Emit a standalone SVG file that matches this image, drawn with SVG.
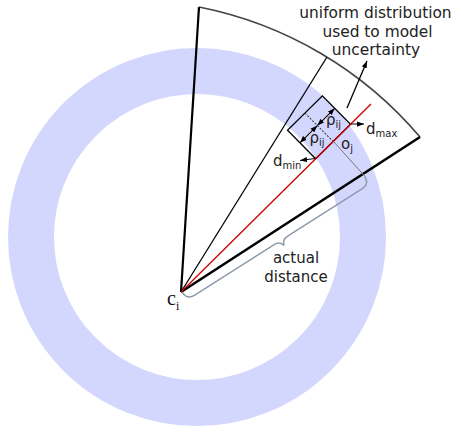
<svg xmlns="http://www.w3.org/2000/svg" width="453" height="428" viewBox="0 0 453 428">
<defs>
<marker id="ah" viewBox="0 0 8 6" refX="8" refY="3" markerWidth="7" markerHeight="5.5" orient="auto-start-reverse" markerUnits="userSpaceOnUse"><path d="M0,0 L8,3 L0,6 z" fill="#000"/></marker>
</defs>
<style>
.lbl{font-family:"DejaVu Sans",Verdana,sans-serif;font-size:15px;fill:#222}
.top{font-size:15.4px}
.sub{font-size:10px}
.ser{font-family:"Liberation Serif","Times New Roman",serif;fill:#111}
.thin{fill:none;stroke:#000;stroke-width:1.3}
</style>
<rect width="453" height="428" fill="#fff"/>
<g id="ring"><circle cx="197" cy="237" r="166" fill="none" stroke="#d3d7fd" stroke-width="46"/></g>
<g id="sector">
<path d="M199,7 A388,388 0 0 1 420,137" fill="none" stroke="#444" stroke-width="1.6"/>
<line x1="181" y1="292" x2="199" y2="7" stroke="#000" stroke-width="2.2"/>
<line x1="181" y1="292" x2="420" y2="137" stroke="#000" stroke-width="2.6"/>
<line x1="181" y1="292" x2="327" y2="57" stroke="#000" stroke-width="1.3"/>
</g>
<g id="box" transform="translate(333.1,141.5) rotate(-44.69)">
<rect x="-24.5" y="-40" width="49" height="40" class="thin"/>
<line x1="0" y1="-40" x2="0" y2="0" stroke="#333" stroke-width="1" stroke-dasharray="2,1.5"/>
<line x1="0" y1="-22.4" x2="24.5" y2="-22.4" stroke="#000" stroke-width="1" marker-start="url(#ah)" marker-end="url(#ah)"/>
<line x1="-24.5" y1="-22.4" x2="0" y2="-22.4" stroke="#000" stroke-width="1" marker-start="url(#ah)" marker-end="url(#ah)"/>
</g>
<g id="connectors">
<line x1="181" y1="292" x2="371" y2="104" stroke="#cc0000" stroke-width="1.3"/>
<line x1="333.5" y1="141.5" x2="365" y2="176.5" stroke="#777" stroke-width="1"/>
<path transform="translate(181,292) rotate(-32.45)" d="M1,1 C1,7 4,10 10,10 L104,10 C108,10 111,12 112,16 C113,12 116,10 120,10 L209,10 C214,10 217,7 217,1" fill="none" stroke="#8c9bab" stroke-width="1.5"/>
<line x1="347" y1="108" x2="367" y2="61" stroke="#000" stroke-width="1.3" marker-end="url(#ah)"/>
<line x1="351" y1="124" x2="364" y2="124" stroke="#000" stroke-width="1" marker-end="url(#ah)"/>
<line x1="315" y1="158.5" x2="300" y2="160.5" stroke="#000" stroke-width="1" marker-end="url(#ah)"/>
</g>
<g id="labels">
<text class="lbl top" text-anchor="middle" x="375.5" y="18">uniform distribution</text>
<text class="lbl top" text-anchor="middle" x="377.5" y="37">used to model</text>
<text class="lbl top" text-anchor="middle" x="376" y="55">uncertainty</text>
<text class="lbl" text-anchor="middle" x="296" y="263">actual</text>
<text class="lbl" text-anchor="middle" x="296" y="282">distance</text>
<text class="lbl" x="326" y="125">ρ<tspan class="sub" dy="3">ij</tspan></text>
<text class="lbl" x="309.5" y="143">ρ<tspan class="sub" dy="3">ij</tspan></text>
<text class="lbl" x="341" y="148.5">o<tspan class="sub" dy="3">j</tspan></text>
<text class="lbl" x="366" y="134">d<tspan class="sub" dy="3">max</tspan></text>
<text class="lbl" x="273" y="166">d<tspan class="sub" dy="3">min</tspan></text>
<text class="ser" x="167" y="305" font-size="20">c<tspan font-size="12" dy="5">i</tspan></text>
</g>
</svg>
